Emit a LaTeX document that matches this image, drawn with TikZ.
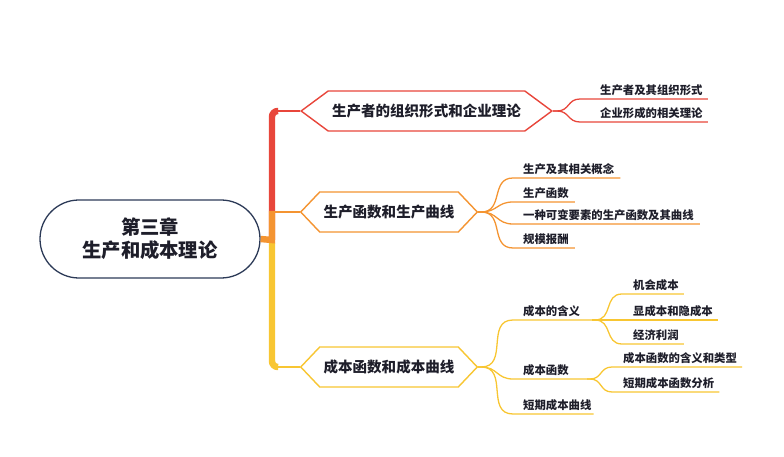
\documentclass[tikz,border=0pt]{standalone}
\usepackage{fontspec}
\newfontfamily\cjk{Noto Sans CJK SC}
\usetikzlibrary{shapes.symbols,calc}

\definecolor{cred}{HTML}{E8463B}
\definecolor{corange}{HTML}{F49431}
\definecolor{cyellow}{HTML}{F8C632}
\definecolor{cnavy}{HTML}{2C3A57}
\definecolor{ctext}{HTML}{1E1E2A}

\begin{document}
\begin{tikzpicture}[x=0.03cm, y=-0.03cm,
    rootbox/.style={draw=cnavy, line width=1.1pt, rounded corners=1.17cm,
        minimum width=6.6cm, minimum height=2.34cm, align=center, text=ctext,
        font=\cjk\bfseries\fontsize{16.5}{19.6}\selectfont},
    hexbox/.style={shape=signal, signal to=west and east, draw=#1, fill=white,
        line width=1.2pt, minimum height=1.2cm, text=ctext,
        font=\cjk\bfseries\fontsize{12.4}{14}\selectfont},
    leaf/.style={anchor=south west, inner xsep=0pt, inner ysep=2.5pt, text=ctext,
        font=\cjk\bfseries\fontsize{9.7}{11}\selectfont},
    twig/.style={draw=#1, line width=1.1pt},
    sbend/.style={out=0, in=180, looseness=1.25},
]

    \useasboundingbox (0,0) rectangle (784,457);

    % centre and main topics
    \node[rootbox] (root) at (150,239) {第三章\\生产和成本理论};
    \coordinate (hub) at (272,240);

    \node[hexbox=cred, minimum width=7.41cm, signal pointer angle=73] (h1) at (426.5,111) {生产者的组织形式和企业理论};
    \node[hexbox=corange, minimum width=5.16cm, signal pointer angle=93] (h2) at (389,212) {生产函数和生产曲线};
    \node[hexbox=cyellow, minimum width=5.16cm, signal pointer angle=93] (h3) at (389,367) {成本函数和成本曲线};

    % trunk
    \draw[cred, line width=5.5pt, rounded corners=5] (hub) |- ($(hub |- h1.west)+(6,0)$);
    \draw[cred, line width=2.2pt] (hub |- h1.west) -- (h1.west);
    \draw[cyellow, line width=5.5pt, rounded corners=5] ($(hub)+(0,3)$) |- ($(hub |- h3.west)+(6,0)$);
    \draw[cyellow, line width=2.2pt] (hub |- h3.west) -- (h3.west);
    \draw[corange, line width=5.5pt] (root.east) -- (hub) -- ($(hub |- h2.west)+(0,-1)$);
    \draw[corange, line width=2.2pt] (hub |- h2.west) -- (h2.west);

    % subtopics
    \node[leaf] (r1) at (600,99) {生产者及其组织形式};
    \node[leaf] (r2) at (600,122) {企业形成的相关理论};

    \node[leaf] (o1) at (523,178) {生产及其相关概念};
    \node[leaf] (o2) at (523,202) {生产函数};
    \node[leaf] (o3) at (523,224) {一种可变要素的生产函数及其曲线};
    \node[leaf] (o4) at (523,248) {规模报酬};

    \node[leaf] (y1) at (523,320) {成本的含义};
    \node[leaf] (y2) at (523,379) {成本函数};
    \node[leaf] (y3) at (523,414) {短期成本曲线};
    \coordinate (y1e) at (592,320);
    \coordinate (y2e) at (587,379);

    \node[leaf] (g1) at (633,294) {机会成本};
    \node[leaf] (g2) at (633,320) {显成本和隐成本};
    \node[leaf] (g3) at (633,344) {经济利润};
    \node[leaf] (g4) at (623,367) {成本函数的含义和类型};
    \node[leaf] (g5) at (623,392) {短期成本函数分析};

    % branches
    \foreach \c in {r1,r2}
        \draw[twig=cred] (h1.east) -- ++(4,0) to[sbend] ($(\c.south west)+(-20,0)$) -- ($(\c.south east)+(5,0)$);
    \foreach \c in {o1,o2,o3,o4}
        \draw[twig=corange] (h2.east) -- ++(3,0) to[sbend] ($(\c.south west)+(-10,0)$) -- ($(\c.south east)+(6,0)$);

    \draw[twig=cyellow] (h3.east) -- ++(3,0) to[sbend] ($(y1.south west)+(-10,0)$) -- (y1e);
    \draw[twig=cyellow] (h3.east) -- ++(3,0) to[sbend] ($(y2.south west)+(-10,0)$) -- (y2e);
    \draw[twig=cyellow] (h3.east) -- ++(3,0) to[sbend] ($(y3.south west)+(-10,0)$) -- ($(y3.south east)+(2,0)$);

    \foreach \c in {g1,g2,g3}
        \draw[twig=cyellow] (y1e) -- ++(3,0) to[sbend] ($(\c.south west)+(-11,0)$) -- ($(\c.south east)+(5,0)$);
    \foreach \c in {g4,g5}
        \draw[twig=cyellow] (y2e) -- ++(3,0) to[sbend] ($(\c.south west)+(-11,0)$) -- ($(\c.south east)+(5,0)$);

\end{tikzpicture}
\end{document}
